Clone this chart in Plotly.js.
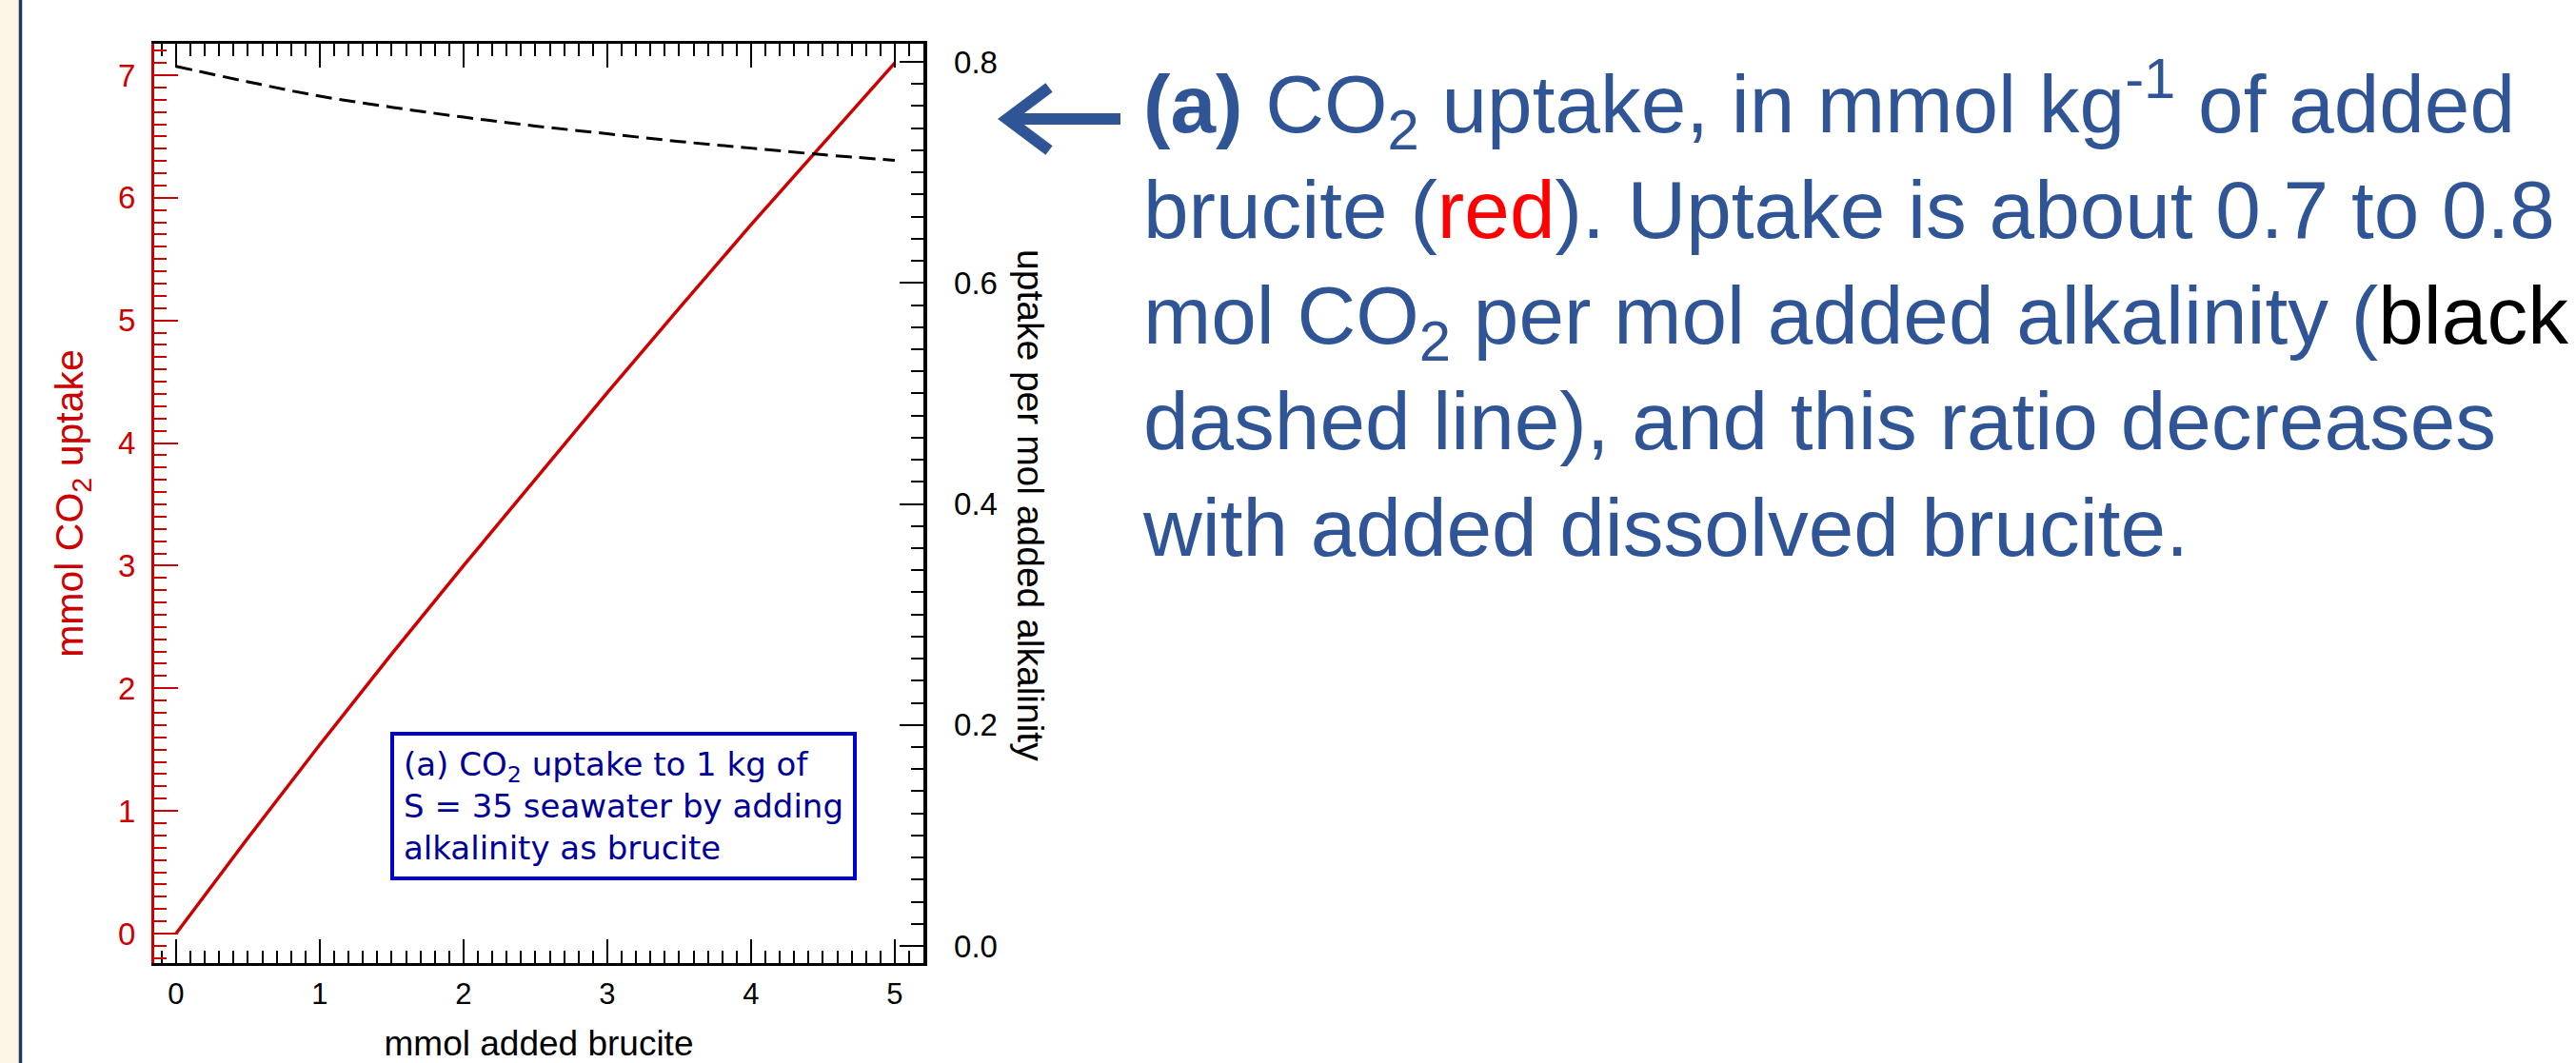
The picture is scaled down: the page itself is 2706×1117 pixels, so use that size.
<!DOCTYPE html>
<html><head><meta charset="utf-8">
<script src="https://cdn.plot.ly/plotly-3.0.1.min.js"></script>
<style>html,body{margin:0;padding:0;background:#fff;} #chart{width:2706px;height:1117px;}</style>
</head><body><div id="chart"></div>
<script>
// ---- data ----
const brucite      = [0, 0.5, 1, 1.5, 2, 2.5, 3, 3.5, 4, 4.5, 5];           // mmol added brucite
const co2Uptake    = [0, 0.78, 1.54, 2.28, 3.00, 3.71, 4.41, 5.10, 5.78, 6.44, 7.10]; // mmol CO2 uptake
const uptakeRatio  = [0.796, 0.782, 0.769, 0.759, 0.750, 0.742, 0.735, 0.728, 0.722, 0.716, 0.711]; // per mol alkalinity
const xTickVals    = [0, 1, 2, 3, 4, 5];
const leftTickVals = [0, 1, 2, 3, 4, 5, 6, 7];
const rightTickVals = [0, 0.2, 0.4, 0.6, 0.8];
const rightTickText = ['0.0', '0.2', '0.4', '0.6', '0.8'];

// ---- geometry ----
const W = 2706, H = 1117, L = 162, R = 970, T = 46, B = 1012;
const px2x = p => (p - L) / (R - L);
const px2y = p => (B - p) / (B - T);

const xRange = [-0.152, 5.199];
const yRange = [-0.241, 7.256];
const y2Range = [-0.0155, 0.8164];

const RED = '#CC0000', BLUE_TXT = '#2F5597';
const fontArial = (s, c) => ({family: 'Liberation Sans, Arial, sans-serif', size: s, color: c});

const traces = [
  {x: brucite, y: co2Uptake, type: 'scatter', mode: 'lines', xaxis: 'x', yaxis: 'y',
   line: {color: RED, width: 3.5}, hoverinfo: 'skip', showlegend: false},
  {x: brucite, y: uptakeRatio, type: 'scatter', mode: 'lines', xaxis: 'x', yaxis: 'y2',
   line: {color: '#000', width: 3, dash: '17px,8px', shape: 'spline'}, hoverinfo: 'skip', showlegend: false}
];

const commonAx = {showgrid: false, zeroline: false, fixedrange: true};

const layout = {
  width: W, height: H,
  margin: {l: L, r: W - R, t: T, b: H - B, pad: 0},
  paper_bgcolor: '#ffffff', plot_bgcolor: '#ffffff',
  showlegend: false,
  xaxis: Object.assign({}, commonAx, {
    range: xRange, tickvals: xTickVals, ticks: 'inside', ticklen: 25, tickwidth: 2, tickcolor: '#000',
    showline: true, linecolor: '#000', linewidth: 3, mirror: 'ticks',
    minor: {dtick: 0.1, tick0: 0, ticks: 'inside', ticklen: 13, tickwidth: 2, tickcolor: '#000', showgrid: false},
    tickfont: fontArial(31, '#000'), ticklabelstandoff: 3,
    title: {text: 'mmol added brucite', font: fontArial(37, '#000'), standoff: 48}
  }),
  xaxis3: Object.assign({}, commonAx, {
    overlaying: 'x', anchor: 'y', range: xRange, dtick: 0.5, tick0: 0, ticks: 'inside', ticklen: 19,
    tickwidth: 2, tickcolor: '#000', showticklabels: false, showline: true, linecolor: '#000', linewidth: 3,
    mirror: 'ticks'
  }),
  yaxis: Object.assign({}, commonAx, {
    range: yRange, tickvals: leftTickVals, ticks: 'inside', ticklen: 25, tickwidth: 2, tickcolor: RED,
    showline: true, linecolor: RED, linewidth: 3, side: 'left',
    minor: {dtick: 0.1, tick0: 0, ticks: 'inside', ticklen: 13, tickwidth: 2, tickcolor: RED, showgrid: false},
    tickfont: fontArial(33, RED), ticklabelstandoff: 10,
    title: {text: 'mmol CO<sub>2</sub> uptake', font: fontArial(41, RED), standoff: 24}
  }),
  yaxis3: Object.assign({}, commonAx, {
    overlaying: 'y', anchor: 'x', side: 'left', range: yRange, dtick: 0.5, tick0: 0, ticks: 'inside',
    ticklen: 19, tickwidth: 2, tickcolor: RED, showticklabels: false, showline: false
  }),
  yaxis2: Object.assign({}, commonAx, {
    overlaying: 'y', anchor: 'x', side: 'right', range: y2Range, tickvals: rightTickVals, ticktext: rightTickText,
    ticks: 'inside', ticklen: 25, tickwidth: 2, tickcolor: '#000',
    showline: true, linecolor: '#000', linewidth: 3.5,
    minor: {dtick: 0.02, tick0: 0, ticks: 'inside', ticklen: 13, tickwidth: 2, tickcolor: '#000', showgrid: false},
    tickfont: fontArial(33, '#000'), ticklabelstandoff: 22
  }),
  yaxis4: Object.assign({}, commonAx, {
    overlaying: 'y', anchor: 'x', side: 'right', range: y2Range, dtick: 0.1, tick0: 0, ticks: 'inside',
    ticklen: 19, tickwidth: 2, tickcolor: '#000', showticklabels: false, showline: false
  }),
  annotations: [
    {xref: 'paper', yref: 'paper', x: px2x(410), y: px2y(925), xanchor: 'left', yanchor: 'bottom',
     showarrow: false, align: 'left', bgcolor: '#ffffff', bordercolor: '#0000CC', borderwidth: 4, borderpad: 10,
     font: {family: 'DejaVu Sans, Verdana, sans-serif', size: 34, color: '#000099'},
     text: '(a) CO<sub>2</sub> uptake to 1 kg of<br>S = 35 seawater by adding<br>alkalinity as brucite'},
    {xref: 'paper', yref: 'paper', x: px2x(1083), y: px2y(531), xanchor: 'center', yanchor: 'middle',
     showarrow: false, textangle: 90, font: fontArial(39, '#000'),
     text: 'uptake per mol added alkalinity'},
    {xref: 'paper', yref: 'paper', x: px2x(1198), y: px2y(47), xanchor: 'left', yanchor: 'top',
     showarrow: false, align: 'left', font: fontArial(85.5, BLUE_TXT),
     text: '<b>(a)</b> CO<sub>2</sub> uptake, in mmol kg<sup>-1</sup> of added<br>' +
           'brucite (<span style="color:#FF0000">red</span>). Uptake is about 0.7 to 0.8<br>' +
           'mol CO<sub>2</sub> per mol added alkalinity (<span style="color:#000000">black</span><br>' +
           'dashed line), and this ratio decreases<br>' +
           'with added dissolved brucite.'}
  ],
  shapes: [
    {type: 'rect', xref: 'paper', yref: 'paper', x0: px2x(0), x1: px2x(20), y0: px2y(H), y1: px2y(0),
     fillcolor: '#FCF5E5', line: {width: 0}, layer: 'above'},
    {type: 'line', xref: 'paper', yref: 'paper', x0: px2x(21.5), x1: px2x(21.5), y0: px2y(H), y1: px2y(0),
     line: {color: '#1F3864', width: 3.5}, layer: 'above'},
    {type: 'path', xref: 'paper', yref: 'paper', layer: 'above',
     path: 'M ' + px2x(1177) + ',' + px2y(125) + ' L ' + px2x(1060) + ',' + px2y(125) +
           ' M ' + px2x(1102) + ',' + px2y(92) + ' L ' + px2x(1058) + ',' + px2y(125) +
           ' L ' + px2x(1102) + ',' + px2y(158),
     line: {color: BLUE_TXT, width: 12}}
  ]
};

Plotly.newPlot('chart', traces, layout, {staticPlot: true, displayModeBar: false});
</script>
</body></html>
